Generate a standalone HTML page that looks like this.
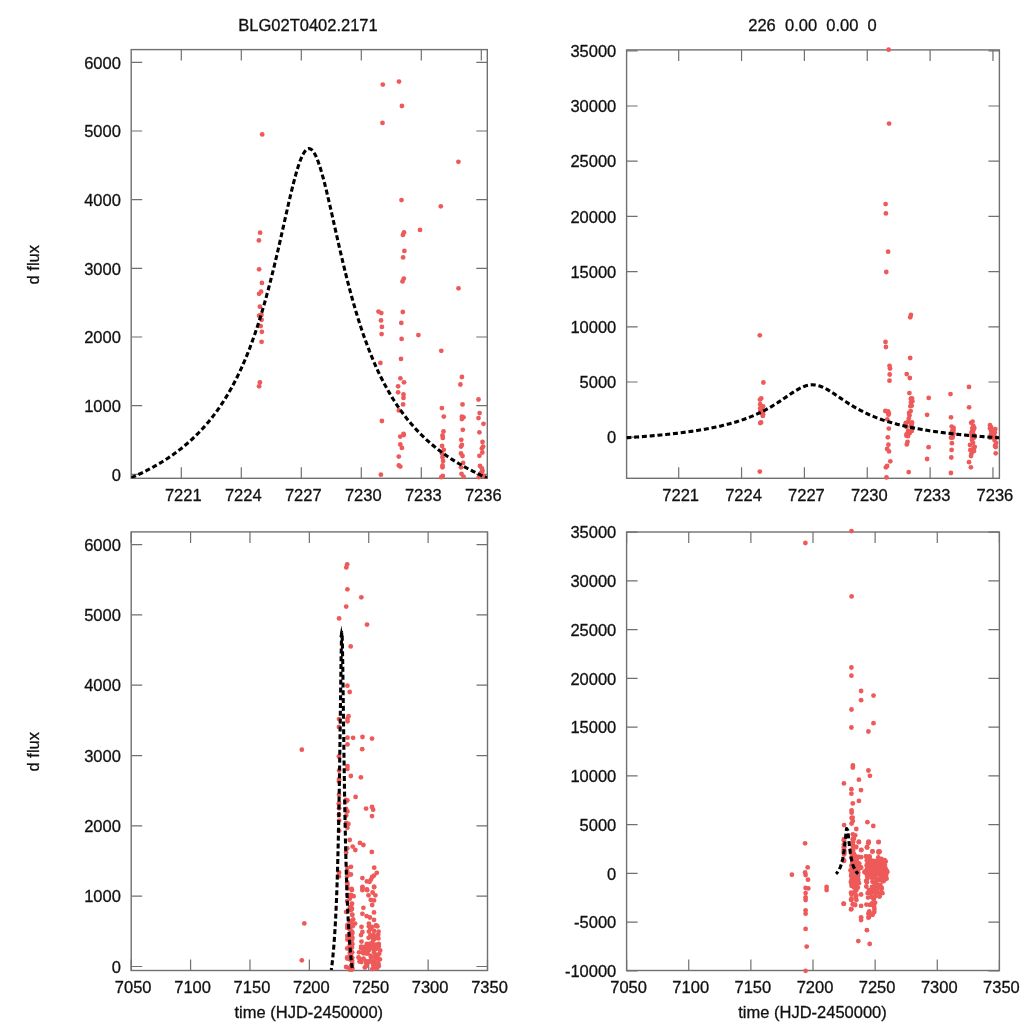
<!DOCTYPE html><html><head><meta charset="utf-8"><style>html,body{margin:0;padding:0;background:#fff;}svg{display:block;}</style></head><body>
<svg width="1024" height="1024" viewBox="0 0 1024 1024">
<rect width="1024" height="1024" fill="#fff"/>
<clipPath id="c1"><rect x="131.2" y="49.6" width="356.1" height="428.7"/></clipPath>
<rect x="131.2" y="49.6" width="356.1" height="428.7" fill="none" stroke="#707070" stroke-width="1.4"/>
<path d="M181.30 478.30V467.30M181.30 49.60V60.60M241.30 478.30V467.30M241.30 49.60V60.60M301.30 478.30V467.30M301.30 49.60V60.60M361.30 478.30V467.30M361.30 49.60V60.60M421.30 478.30V467.30M421.30 49.60V60.60M481.30 478.30V467.30M481.30 49.60V60.60M131.20 474.30H142.20M487.30 474.30H476.30M131.20 405.64H142.20M487.30 405.64H476.30M131.20 336.98H142.20M487.30 336.98H476.30M131.20 268.32H142.20M487.30 268.32H476.30M131.20 199.66H142.20M487.30 199.66H476.30M131.20 131.00H142.20M487.30 131.00H476.30M131.20 62.34H142.20M487.30 62.34H476.30" stroke="#707070" stroke-width="1.2" fill="none"/>
<g fill="#ee5a5a">
<circle cx="262.2" cy="134.4" r="2.4"/><circle cx="260.1" cy="232.7" r="2.4"/><circle cx="258.9" cy="240.4" r="2.4"/><circle cx="259.1" cy="269.3" r="2.4"/><circle cx="261.9" cy="282.9" r="2.4"/><circle cx="261.1" cy="291.7" r="2.4"/><circle cx="259.1" cy="293.8" r="2.4"/><circle cx="259.9" cy="306.7" r="2.4"/><circle cx="259.1" cy="315.7" r="2.4"/><circle cx="261.4" cy="314.9" r="2.4"/><circle cx="261.6" cy="319.8" r="2.4"/><circle cx="260.7" cy="326.1" r="2.4"/><circle cx="261.9" cy="331.8" r="2.4"/><circle cx="261.6" cy="341.8" r="2.4"/><circle cx="259.9" cy="382.5" r="2.4"/><circle cx="259.1" cy="386.3" r="2.4"/><circle cx="382.8" cy="84.6" r="2.4"/><circle cx="399" cy="81.6" r="2.4"/><circle cx="401.9" cy="106" r="2.4"/><circle cx="382.5" cy="122.9" r="2.4"/><circle cx="458.4" cy="161.8" r="2.4"/><circle cx="401.5" cy="200.1" r="2.4"/><circle cx="440.8" cy="206.3" r="2.4"/><circle cx="420" cy="229.9" r="2.4"/><circle cx="404" cy="232.4" r="2.4"/><circle cx="402.9" cy="234.9" r="2.4"/><circle cx="404.4" cy="250.9" r="2.4"/><circle cx="403.1" cy="257.4" r="2.4"/><circle cx="403.8" cy="278.6" r="2.4"/><circle cx="402.5" cy="281.4" r="2.4"/><circle cx="458.5" cy="288.3" r="2.4"/><circle cx="378.5" cy="311.6" r="2.4"/><circle cx="381.3" cy="313.1" r="2.4"/><circle cx="402.8" cy="312" r="2.4"/><circle cx="381" cy="320.4" r="2.4"/><circle cx="401.3" cy="322.9" r="2.4"/><circle cx="381.9" cy="326.9" r="2.4"/><circle cx="381.6" cy="334.1" r="2.4"/><circle cx="418.4" cy="335.1" r="2.4"/><circle cx="401.6" cy="338.9" r="2.4"/><circle cx="441.3" cy="350.8" r="2.4"/><circle cx="401" cy="358.9" r="2.4"/><circle cx="380.4" cy="362.9" r="2.4"/><circle cx="400.4" cy="378.3" r="2.4"/><circle cx="404" cy="382.3" r="2.4"/><circle cx="461.9" cy="377" r="2.4"/><circle cx="460.4" cy="384.5" r="2.4"/><circle cx="398.1" cy="386.3" r="2.4"/><circle cx="398.1" cy="392.3" r="2.4"/><circle cx="403.5" cy="394.4" r="2.4"/><circle cx="403.5" cy="397.9" r="2.4"/><circle cx="403.1" cy="404.4" r="2.4"/><circle cx="478.5" cy="399.5" r="2.4"/><circle cx="462.5" cy="404.4" r="2.4"/><circle cx="441.9" cy="408.1" r="2.4"/><circle cx="398.8" cy="410.4" r="2.4"/><circle cx="479.6" cy="413.1" r="2.4"/><circle cx="443.8" cy="416.6" r="2.4"/><circle cx="461.9" cy="416.6" r="2.4"/><circle cx="463.5" cy="417.3" r="2.4"/><circle cx="461.9" cy="419.1" r="2.4"/><circle cx="478.5" cy="418.1" r="2.4"/><circle cx="381.9" cy="421" r="2.4"/><circle cx="483.5" cy="423.8" r="2.4"/><circle cx="443.5" cy="431.4" r="2.4"/><circle cx="462.8" cy="429.8" r="2.4"/><circle cx="479.4" cy="432.3" r="2.4"/><circle cx="403.5" cy="433.8" r="2.4"/><circle cx="400.3" cy="436.6" r="2.4"/><circle cx="403.8" cy="435" r="2.4"/><circle cx="400.3" cy="444.5" r="2.4"/><circle cx="401.9" cy="447.9" r="2.4"/><circle cx="398.8" cy="456.6" r="2.4"/><circle cx="398.8" cy="465.4" r="2.4"/><circle cx="400.3" cy="466.6" r="2.4"/><circle cx="380.9" cy="474.7" r="2.4"/><circle cx="442.5" cy="435.4" r="2.4"/><circle cx="442.8" cy="437.9" r="2.4"/><circle cx="442.1" cy="446" r="2.4"/><circle cx="443.8" cy="449.8" r="2.4"/><circle cx="441.9" cy="453.5" r="2.4"/><circle cx="442.5" cy="457.3" r="2.4"/><circle cx="443.1" cy="461" r="2.4"/><circle cx="442.5" cy="465.4" r="2.4"/><circle cx="442.5" cy="467.3" r="2.4"/><circle cx="441.3" cy="477.2" r="2.4"/><circle cx="442.8" cy="476" r="2.4"/><circle cx="461.3" cy="439.8" r="2.4"/><circle cx="461.9" cy="444.8" r="2.4"/><circle cx="461" cy="446.6" r="2.4"/><circle cx="461" cy="453.5" r="2.4"/><circle cx="462.5" cy="456" r="2.4"/><circle cx="463.1" cy="462.9" r="2.4"/><circle cx="461" cy="467.3" r="2.4"/><circle cx="461.5" cy="473.8" r="2.4"/><circle cx="463.5" cy="476.6" r="2.4"/><circle cx="482.5" cy="442" r="2.4"/><circle cx="483.1" cy="446.6" r="2.4"/><circle cx="481.9" cy="448.3" r="2.4"/><circle cx="482.3" cy="452.5" r="2.4"/><circle cx="479.4" cy="455.8" r="2.4"/><circle cx="480" cy="466" r="2.4"/><circle cx="481.9" cy="468.5" r="2.4"/><circle cx="482.5" cy="471" r="2.4"/><circle cx="481" cy="472.9" r="2.4"/><circle cx="478.8" cy="477.2" r="2.4"/><circle cx="483.8" cy="476" r="2.4"/>
</g>
<g clip-path="url(#c1)"><path d="M131.30 477.73 L132.49 477.21 L133.68 476.69 L134.87 476.16 L136.06 475.62 L137.25 475.08 L138.44 474.52 L139.63 473.97 L140.83 473.40 L142.02 472.83 L143.21 472.24 L144.40 471.65 L145.59 471.06 L146.78 470.45 L147.97 469.84 L149.16 469.22 L150.35 468.58 L151.54 467.94 L152.73 467.30 L153.92 466.64 L155.11 465.97 L156.30 465.29 L157.49 464.61 L158.68 463.91 L159.88 463.20 L161.07 462.48 L162.26 461.75 L163.45 461.02 L164.64 460.26 L165.83 459.50 L167.02 458.73 L168.21 457.94 L169.40 457.14 L170.59 456.33 L171.78 455.51 L172.97 454.68 L174.16 453.83 L175.35 452.96 L176.54 452.09 L177.73 451.19 L178.93 450.29 L180.12 449.37 L181.31 448.43 L182.50 447.48 L183.69 446.51 L184.88 445.52 L186.07 444.52 L187.26 443.50 L188.45 442.47 L189.64 441.41 L190.83 440.34 L192.02 439.25 L193.21 438.13 L194.40 437.00 L195.59 435.85 L196.78 434.67 L197.98 433.48 L199.17 432.26 L200.36 431.02 L201.55 429.75 L202.74 428.46 L203.93 427.15 L205.12 425.81 L206.31 424.44 L207.50 423.05 L208.69 421.63 L209.88 420.18 L211.07 418.70 L212.26 417.20 L213.45 415.66 L214.64 414.09 L215.84 412.48 L217.03 410.85 L218.22 409.18 L219.41 407.47 L220.60 405.73 L221.79 403.94 L222.98 402.12 L224.17 400.26 L225.36 398.36 L226.55 396.42 L227.74 394.43 L228.93 392.40 L230.12 390.33 L231.31 388.20 L232.50 386.03 L233.69 383.80 L234.89 381.53 L236.08 379.20 L237.27 376.81 L238.46 374.37 L239.65 371.87 L240.84 369.31 L242.03 366.69 L243.22 364.00 L244.41 361.25 L245.60 358.44 L246.79 355.55 L247.98 352.59 L249.17 349.56 L250.36 346.46 L251.55 343.27 L252.74 340.01 L253.94 336.67 L255.13 333.25 L256.32 329.74 L257.51 326.15 L258.70 322.47 L259.89 318.70 L261.08 314.84 L262.27 310.89 L263.46 306.85 L264.65 302.71 L265.84 298.48 L267.03 294.16 L268.22 289.74 L269.41 285.23 L270.60 280.62 L271.79 275.93 L272.99 271.15 L274.18 266.29 L275.37 261.34 L276.56 256.32 L277.75 251.23 L278.94 246.08 L280.13 240.88 L281.32 235.63 L282.51 230.35 L283.70 225.05 L284.89 219.75 L286.08 214.46 L287.27 209.20 L288.46 203.99 L289.65 198.85 L290.85 193.81 L292.04 188.90 L293.23 184.13 L294.42 179.53 L295.61 175.15 L296.80 171.00 L297.99 167.11 L299.18 163.53 L300.37 160.27 L301.56 157.36 L302.75 154.83 L303.94 152.70 L305.13 151.00 L306.32 149.73 L307.51 148.92 L308.70 148.57 L309.01 148.55 L309.90 148.68 L311.09 149.25 L312.28 150.28 L313.47 151.76 L314.66 153.67 L315.85 155.99 L317.04 158.71 L318.23 161.79 L319.42 165.21 L320.61 168.94 L321.80 172.96 L322.99 177.22 L324.18 181.71 L325.37 186.39 L326.56 191.24 L327.75 196.22 L328.95 201.31 L330.14 206.48 L331.33 211.72 L332.52 216.99 L333.71 222.29 L334.90 227.60 L336.09 232.89 L337.28 238.15 L338.47 243.38 L339.66 248.56 L340.85 253.68 L342.04 258.74 L343.23 263.72 L344.42 268.63 L345.61 273.46 L346.81 278.19 L348.00 282.84 L349.19 287.40 L350.38 291.87 L351.57 296.24 L352.76 300.52 L353.95 304.71 L355.14 308.80 L356.33 312.80 L357.52 316.71 L358.71 320.52 L359.90 324.25 L361.09 327.89 L362.28 331.44 L363.47 334.90 L364.66 338.29 L365.86 341.59 L367.05 344.81 L368.24 347.96 L369.43 351.02 L370.62 354.02 L371.81 356.94 L373.00 359.80 L374.19 362.58 L375.38 365.30 L376.57 367.95 L377.76 370.55 L378.95 373.08 L380.14 375.55 L381.33 377.96 L382.52 380.32 L383.71 382.62 L384.91 384.88 L386.10 387.08 L387.29 389.23 L388.48 391.33 L389.67 393.38 L390.86 395.39 L392.05 397.36 L393.24 399.28 L394.43 401.16 L395.62 403.00 L396.81 404.80 L398.00 406.57 L399.19 408.29 L400.38 409.98 L401.57 411.64 L402.76 413.26 L403.96 414.84 L405.15 416.40 L406.34 417.92 L407.53 419.42 L408.72 420.88 L409.91 422.31 L411.10 423.72 L412.29 425.10 L413.48 426.45 L414.67 427.78 L415.86 429.08 L417.05 430.36 L418.24 431.61 L419.43 432.84 L420.62 434.05 L421.82 435.24 L423.01 436.40 L424.20 437.55 L425.39 438.67 L426.58 439.77 L427.77 440.86 L428.96 441.92 L430.15 442.97 L431.34 443.99 L432.53 445.01 L433.72 446.00 L434.91 446.98 L436.10 447.94 L437.29 448.88 L438.48 449.81 L439.67 450.72 L440.87 451.62 L442.06 452.51 L443.25 453.38 L444.44 454.24 L445.63 455.08 L446.82 455.91 L448.01 456.72 L449.20 457.53 L450.39 458.32 L451.58 459.10 L452.77 459.87 L453.96 460.63 L455.15 461.37 L456.34 462.11 L457.53 462.83 L458.72 463.54 L459.92 464.24 L461.11 464.94 L462.30 465.62 L463.49 466.29 L464.68 466.95 L465.87 467.61 L467.06 468.25 L468.25 468.89 L469.44 469.52 L470.63 470.13 L471.82 470.74 L473.01 471.35 L474.20 471.94 L475.39 472.52 L476.58 473.10 L477.77 473.67 L478.97 474.23 L480.16 474.79 L481.35 475.34 L482.54 475.88 L483.73 476.41 L484.92 476.94 L486.11 477.46 L487.30 477.98" fill="none" stroke="#000" stroke-width="3.1" stroke-dasharray="5 2.8" stroke-dashoffset="0.00" stroke-linejoin="miter"/></g>
<g font-family="Liberation Sans, sans-serif" font-size="16.5" fill="#111" stroke="#111" stroke-width="0.3" style="will-change:transform"><text x="183.30" y="501.00" text-anchor="middle">7221</text><text x="243.30" y="501.00" text-anchor="middle">7224</text><text x="303.30" y="501.00" text-anchor="middle">7227</text><text x="363.30" y="501.00" text-anchor="middle">7230</text><text x="423.30" y="501.00" text-anchor="middle">7233</text><text x="483.30" y="501.00" text-anchor="middle">7236</text><text x="120.90" y="480.50" text-anchor="end">0</text><text x="120.90" y="411.84" text-anchor="end">1000</text><text x="120.90" y="343.18" text-anchor="end">2000</text><text x="120.90" y="274.52" text-anchor="end">3000</text><text x="120.90" y="205.86" text-anchor="end">4000</text><text x="120.90" y="137.20" text-anchor="end">5000</text><text x="120.90" y="68.54" text-anchor="end">6000</text></g>
<clipPath id="c2"><rect x="626.6" y="49.9" width="372.8" height="428.4"/></clipPath>
<rect x="626.6" y="49.9" width="372.8" height="428.4" fill="none" stroke="#707070" stroke-width="1.4"/>
<path d="M678.70 478.30V467.30M678.70 49.90V60.90M741.55 478.30V467.30M741.55 49.90V60.90M804.40 478.30V467.30M804.40 49.90V60.90M867.25 478.30V467.30M867.25 49.90V60.90M930.10 478.30V467.30M930.10 49.90V60.90M992.95 478.30V467.30M992.95 49.90V60.90M626.60 437.20H637.60M999.40 437.20H988.40M626.60 382.00H637.60M999.40 382.00H988.40M626.60 326.80H637.60M999.40 326.80H988.40M626.60 271.60H637.60M999.40 271.60H988.40M626.60 216.40H637.60M999.40 216.40H988.40M626.60 161.20H637.60M999.40 161.20H988.40M626.60 106.00H637.60M999.40 106.00H988.40M626.60 50.80H637.60M999.40 50.80H988.40" stroke="#707070" stroke-width="1.2" fill="none"/>
<g fill="#ee5a5a">
<circle cx="763.4" cy="382.5" r="2.4"/><circle cx="761.2" cy="398.4" r="2.4"/><circle cx="760" cy="399.6" r="2.4"/><circle cx="760.2" cy="404.2" r="2.4"/><circle cx="763.1" cy="406.4" r="2.4"/><circle cx="762.3" cy="407.8" r="2.4"/><circle cx="760.2" cy="408.2" r="2.4"/><circle cx="761" cy="410.3" r="2.4"/><circle cx="760.2" cy="411.7" r="2.4"/><circle cx="762.6" cy="411.6" r="2.4"/><circle cx="762.8" cy="412.4" r="2.4"/><circle cx="761.9" cy="413.4" r="2.4"/><circle cx="763.1" cy="414.3" r="2.4"/><circle cx="762.8" cy="415.9" r="2.4"/><circle cx="761" cy="422.4" r="2.4"/><circle cx="760.2" cy="423.1" r="2.4"/><circle cx="889.7" cy="374.5" r="2.4"/><circle cx="906.7" cy="374.1" r="2.4"/><circle cx="909.8" cy="378" r="2.4"/><circle cx="889.5" cy="380.7" r="2.4"/><circle cx="969" cy="386.9" r="2.4"/><circle cx="909.4" cy="393.1" r="2.4"/><circle cx="950.5" cy="394.1" r="2.4"/><circle cx="928.7" cy="397.9" r="2.4"/><circle cx="912" cy="398.3" r="2.4"/><circle cx="910.8" cy="398.7" r="2.4"/><circle cx="912.4" cy="401.3" r="2.4"/><circle cx="911" cy="402.3" r="2.4"/><circle cx="911.7" cy="405.7" r="2.4"/><circle cx="910.4" cy="406.2" r="2.4"/><circle cx="969.1" cy="407.3" r="2.4"/><circle cx="885.3" cy="411" r="2.4"/><circle cx="888.1" cy="411.3" r="2.4"/><circle cx="910.7" cy="411.1" r="2.4"/><circle cx="887.9" cy="412.5" r="2.4"/><circle cx="909.1" cy="412.9" r="2.4"/><circle cx="888.8" cy="413.5" r="2.4"/><circle cx="888.5" cy="414.7" r="2.4"/><circle cx="927.1" cy="414.8" r="2.4"/><circle cx="909.5" cy="415.4" r="2.4"/><circle cx="951" cy="417.3" r="2.4"/><circle cx="908.8" cy="418.6" r="2.4"/><circle cx="887.3" cy="419.3" r="2.4"/><circle cx="908.2" cy="421.8" r="2.4"/><circle cx="912" cy="422.4" r="2.4"/><circle cx="972.6" cy="421.6" r="2.4"/><circle cx="971.1" cy="422.8" r="2.4"/><circle cx="905.8" cy="423" r="2.4"/><circle cx="905.8" cy="424" r="2.4"/><circle cx="911.5" cy="424.4" r="2.4"/><circle cx="911.5" cy="424.9" r="2.4"/><circle cx="911" cy="426" r="2.4"/><circle cx="990" cy="425.2" r="2.4"/><circle cx="973.3" cy="426" r="2.4"/><circle cx="951.7" cy="426.6" r="2.4"/><circle cx="906.5" cy="426.9" r="2.4"/><circle cx="991.2" cy="427.4" r="2.4"/><circle cx="953.6" cy="427.9" r="2.4"/><circle cx="972.6" cy="427.9" r="2.4"/><circle cx="974.3" cy="428" r="2.4"/><circle cx="972.6" cy="428.3" r="2.4"/><circle cx="990" cy="428.2" r="2.4"/><circle cx="888.8" cy="428.6" r="2.4"/><circle cx="995.3" cy="429.1" r="2.4"/><circle cx="953.4" cy="430.3" r="2.4"/><circle cx="973.5" cy="430" r="2.4"/><circle cx="991" cy="430.4" r="2.4"/><circle cx="911.5" cy="430.7" r="2.4"/><circle cx="908.1" cy="431.1" r="2.4"/><circle cx="911.7" cy="430.9" r="2.4"/><circle cx="908.1" cy="432.4" r="2.4"/><circle cx="909.8" cy="433" r="2.4"/><circle cx="906.5" cy="434.4" r="2.4"/><circle cx="906.5" cy="435.8" r="2.4"/><circle cx="908.1" cy="436" r="2.4"/><circle cx="887.8" cy="437.3" r="2.4"/><circle cx="952.3" cy="430.9" r="2.4"/><circle cx="952.6" cy="431.3" r="2.4"/><circle cx="951.9" cy="432.6" r="2.4"/><circle cx="953.6" cy="433.3" r="2.4"/><circle cx="951.7" cy="433.9" r="2.4"/><circle cx="952.3" cy="434.5" r="2.4"/><circle cx="952.9" cy="435.1" r="2.4"/><circle cx="952.3" cy="435.8" r="2.4"/><circle cx="952.3" cy="436.1" r="2.4"/><circle cx="951" cy="437.7" r="2.4"/><circle cx="952.6" cy="437.5" r="2.4"/><circle cx="971.9" cy="431.6" r="2.4"/><circle cx="972.6" cy="432.4" r="2.4"/><circle cx="971.7" cy="432.7" r="2.4"/><circle cx="971.7" cy="433.9" r="2.4"/><circle cx="973.3" cy="434.3" r="2.4"/><circle cx="973.9" cy="435.4" r="2.4"/><circle cx="971.7" cy="436.1" r="2.4"/><circle cx="972.2" cy="437.1" r="2.4"/><circle cx="974.3" cy="437.6" r="2.4"/><circle cx="994.2" cy="432" r="2.4"/><circle cx="994.8" cy="432.7" r="2.4"/><circle cx="993.6" cy="433" r="2.4"/><circle cx="993.9" cy="433.7" r="2.4"/><circle cx="991" cy="434.2" r="2.4"/><circle cx="991.6" cy="435.9" r="2.4"/><circle cx="993.6" cy="436.3" r="2.4"/><circle cx="994.2" cy="436.7" r="2.4"/><circle cx="992.6" cy="437" r="2.4"/><circle cx="990.3" cy="437.7" r="2.4"/><circle cx="995.5" cy="437.5" r="2.4"/><circle cx="759.8" cy="335.3" r="2.4"/><circle cx="759.8" cy="471.6" r="2.4"/><circle cx="888.6" cy="49.7" r="2.4"/><circle cx="889.1" cy="123.6" r="2.4"/><circle cx="885.6" cy="204.1" r="2.4"/><circle cx="885.9" cy="213.4" r="2.4"/><circle cx="888.1" cy="251.7" r="2.4"/><circle cx="886.3" cy="272" r="2.4"/><circle cx="885.5" cy="341.9" r="2.4"/><circle cx="885.9" cy="347" r="2.4"/><circle cx="889.5" cy="365.8" r="2.4"/><circle cx="890" cy="368.5" r="2.4"/><circle cx="910.9" cy="315" r="2.4"/><circle cx="910.2" cy="317.3" r="2.4"/><circle cx="910.2" cy="358" r="2.4"/><circle cx="888.4" cy="444.7" r="2.4"/><circle cx="887.1" cy="448.9" r="2.4"/><circle cx="889" cy="451.4" r="2.4"/><circle cx="890.3" cy="461.3" r="2.4"/><circle cx="885.9" cy="467.3" r="2.4"/><circle cx="887.1" cy="466" r="2.4"/><circle cx="886.5" cy="477.4" r="2.4"/><circle cx="906.8" cy="444.4" r="2.4"/><circle cx="907.5" cy="441.9" r="2.4"/><circle cx="908.7" cy="472.1" r="2.4"/><circle cx="928.6" cy="447.2" r="2.4"/><circle cx="927.1" cy="459" r="2.4"/><circle cx="951.9" cy="443.2" r="2.4"/><circle cx="951.6" cy="449.9" r="2.4"/><circle cx="951.3" cy="457.5" r="2.4"/><circle cx="950.9" cy="473" r="2.4"/><circle cx="971.6" cy="453.3" r="2.4"/><circle cx="970.3" cy="450.1" r="2.4"/><circle cx="973.5" cy="448.2" r="2.4"/><circle cx="974.7" cy="447" r="2.4"/><circle cx="969" cy="462.2" r="2.4"/><circle cx="970.9" cy="467.3" r="2.4"/><circle cx="995.7" cy="447" r="2.4"/><circle cx="995.7" cy="453.3" r="2.4"/><circle cx="972" cy="440" r="2.4"/><circle cx="973" cy="443" r="2.4"/><circle cx="970" cy="445" r="2.4"/><circle cx="974" cy="451" r="2.4"/><circle cx="971" cy="456" r="2.4"/><circle cx="994.5" cy="440" r="2.4"/><circle cx="996" cy="443" r="2.4"/><circle cx="995" cy="446" r="2.4"/>
</g>
<g clip-path="url(#c2)"><path d="M626.33 437.75 L627.57 437.67 L628.82 437.58 L630.07 437.50 L631.31 437.41 L632.56 437.32 L633.81 437.24 L635.06 437.15 L636.30 437.06 L637.55 436.96 L638.80 436.87 L640.04 436.77 L641.29 436.68 L642.54 436.58 L643.79 436.48 L645.03 436.38 L646.28 436.28 L647.53 436.18 L648.77 436.07 L650.02 435.97 L651.27 435.86 L652.52 435.75 L653.76 435.64 L655.01 435.53 L656.26 435.42 L657.50 435.30 L658.75 435.18 L660.00 435.06 L661.25 434.94 L662.49 434.82 L663.74 434.70 L664.99 434.57 L666.24 434.44 L667.48 434.31 L668.73 434.18 L669.98 434.04 L671.22 433.91 L672.47 433.77 L673.72 433.63 L674.97 433.48 L676.21 433.34 L677.46 433.19 L678.71 433.04 L679.95 432.89 L681.20 432.73 L682.45 432.57 L683.70 432.41 L684.94 432.25 L686.19 432.08 L687.44 431.91 L688.68 431.74 L689.93 431.56 L691.18 431.38 L692.43 431.20 L693.67 431.02 L694.92 430.83 L696.17 430.64 L697.41 430.44 L698.66 430.24 L699.91 430.04 L701.16 429.83 L702.40 429.62 L703.65 429.40 L704.90 429.18 L706.15 428.96 L707.39 428.73 L708.64 428.50 L709.89 428.26 L711.13 428.02 L712.38 427.77 L713.63 427.52 L714.88 427.26 L716.12 427.00 L717.37 426.73 L718.62 426.45 L719.86 426.17 L721.11 425.89 L722.36 425.59 L723.61 425.30 L724.85 424.99 L726.10 424.68 L727.35 424.36 L728.59 424.03 L729.84 423.70 L731.09 423.36 L732.34 423.01 L733.58 422.65 L734.83 422.28 L736.08 421.91 L737.32 421.52 L738.57 421.13 L739.82 420.73 L741.07 420.32 L742.31 419.90 L743.56 419.47 L744.81 419.02 L746.06 418.57 L747.30 418.11 L748.55 417.63 L749.80 417.14 L751.04 416.64 L752.29 416.13 L753.54 415.61 L754.79 415.07 L756.03 414.52 L757.28 413.96 L758.53 413.38 L759.77 412.79 L761.02 412.18 L762.27 411.56 L763.52 410.93 L764.76 410.28 L766.01 409.61 L767.26 408.93 L768.50 408.23 L769.75 407.52 L771.00 406.80 L772.25 406.06 L773.49 405.30 L774.74 404.54 L775.99 403.75 L777.24 402.96 L778.48 402.15 L779.73 401.33 L780.98 400.50 L782.22 399.67 L783.47 398.82 L784.72 397.97 L785.97 397.12 L787.21 396.27 L788.46 395.42 L789.71 394.57 L790.95 393.74 L792.20 392.91 L793.45 392.10 L794.70 391.31 L795.94 390.54 L797.19 389.80 L798.44 389.10 L799.68 388.43 L800.93 387.81 L802.18 387.23 L803.43 386.71 L804.67 386.24 L805.92 385.83 L807.17 385.49 L808.41 385.22 L809.66 385.01 L810.91 384.88 L812.16 384.82 L812.48 384.82 L813.40 384.84 L814.65 384.93 L815.90 385.10 L817.15 385.34 L818.39 385.65 L819.64 386.02 L820.89 386.45 L822.13 386.95 L823.38 387.50 L824.63 388.10 L825.88 388.75 L827.12 389.43 L828.37 390.15 L829.62 390.91 L830.86 391.69 L832.11 392.49 L833.36 393.30 L834.61 394.14 L835.85 394.98 L837.10 395.83 L838.35 396.68 L839.59 397.53 L840.84 398.38 L842.09 399.23 L843.34 400.07 L844.58 400.90 L845.83 401.73 L847.08 402.54 L848.32 403.34 L849.57 404.13 L850.82 404.91 L852.07 405.67 L853.31 406.42 L854.56 407.15 L855.81 407.87 L857.06 408.57 L858.30 409.26 L859.55 409.93 L860.80 410.59 L862.04 411.23 L863.29 411.86 L864.54 412.47 L865.79 413.07 L867.03 413.66 L868.28 414.23 L869.53 414.79 L870.77 415.33 L872.02 415.86 L873.27 416.38 L874.52 416.88 L875.76 417.38 L877.01 417.86 L878.26 418.33 L879.50 418.79 L880.75 419.24 L882.00 419.67 L883.25 420.10 L884.49 420.52 L885.74 420.92 L886.99 421.32 L888.24 421.71 L889.48 422.09 L890.73 422.46 L891.98 422.82 L893.22 423.17 L894.47 423.52 L895.72 423.86 L896.97 424.19 L898.21 424.51 L899.46 424.83 L900.71 425.14 L901.95 425.44 L903.20 425.74 L904.45 426.03 L905.70 426.31 L906.94 426.59 L908.19 426.86 L909.44 427.12 L910.68 427.38 L911.93 427.64 L913.18 427.89 L914.43 428.13 L915.67 428.38 L916.92 428.61 L918.17 428.84 L919.41 429.07 L920.66 429.29 L921.91 429.51 L923.16 429.72 L924.40 429.93 L925.65 430.13 L926.90 430.34 L928.15 430.53 L929.39 430.73 L930.64 430.92 L931.89 431.11 L933.13 431.29 L934.38 431.47 L935.63 431.65 L936.88 431.82 L938.12 431.99 L939.37 432.16 L940.62 432.33 L941.86 432.49 L943.11 432.65 L944.36 432.81 L945.61 432.96 L946.85 433.11 L948.10 433.26 L949.35 433.41 L950.59 433.55 L951.84 433.70 L953.09 433.84 L954.34 433.97 L955.58 434.11 L956.83 434.24 L958.08 434.37 L959.32 434.50 L960.57 434.63 L961.82 434.76 L963.07 434.88 L964.31 435.00 L965.56 435.12 L966.81 435.24 L968.06 435.36 L969.30 435.47 L970.55 435.58 L971.80 435.69 L973.04 435.80 L974.29 435.91 L975.54 436.02 L976.79 436.12 L978.03 436.23 L979.28 436.33 L980.53 436.43 L981.77 436.53 L983.02 436.63 L984.27 436.72 L985.52 436.82 L986.76 436.91 L988.01 437.01 L989.26 437.10 L990.50 437.19 L991.75 437.28 L993.00 437.37 L994.25 437.45 L995.49 437.54 L996.74 437.62 L997.99 437.71 L999.24 437.79" fill="none" stroke="#000" stroke-width="3.1" stroke-dasharray="5 2.8" stroke-dashoffset="0.00" stroke-linejoin="miter"/></g>
<g font-family="Liberation Sans, sans-serif" font-size="16.5" fill="#111" stroke="#111" stroke-width="0.3" style="will-change:transform"><text x="680.70" y="501.00" text-anchor="middle">7221</text><text x="743.55" y="501.00" text-anchor="middle">7224</text><text x="806.40" y="501.00" text-anchor="middle">7227</text><text x="869.25" y="501.00" text-anchor="middle">7230</text><text x="932.10" y="501.00" text-anchor="middle">7233</text><text x="994.95" y="501.00" text-anchor="middle">7236</text><text x="616.30" y="443.40" text-anchor="end">0</text><text x="616.30" y="388.20" text-anchor="end">5000</text><text x="616.30" y="333.00" text-anchor="end">10000</text><text x="616.30" y="277.80" text-anchor="end">15000</text><text x="616.30" y="222.60" text-anchor="end">20000</text><text x="616.30" y="167.40" text-anchor="end">25000</text><text x="616.30" y="112.20" text-anchor="end">30000</text><text x="616.30" y="57.00" text-anchor="end">35000</text></g>
<clipPath id="c3"><rect x="131.2" y="531.9" width="356.3" height="438.6"/></clipPath>
<rect x="131.2" y="531.9" width="356.3" height="438.6" fill="none" stroke="#707070" stroke-width="1.4"/>
<path d="M131.20 970.50V959.50M131.20 531.90V542.90M190.58 970.50V959.50M190.58 531.90V542.90M249.97 970.50V959.50M249.97 531.90V542.90M309.35 970.50V959.50M309.35 531.90V542.90M368.73 970.50V959.50M368.73 531.90V542.90M428.12 970.50V959.50M428.12 531.90V542.90M487.50 970.50V959.50M487.50 531.90V542.90M131.20 966.50H142.20M487.50 966.50H476.50M131.20 896.18H142.20M487.50 896.18H476.50M131.20 825.86H142.20M487.50 825.86H476.50M131.20 755.54H142.20M487.50 755.54H476.50M131.20 685.22H142.20M487.50 685.22H476.50M131.20 614.90H142.20M487.50 614.90H476.50M131.20 544.58H142.20M487.50 544.58H476.50" stroke="#707070" stroke-width="1.2" fill="none"/>
<g fill="#ee5a5a">
<circle cx="339.1" cy="618.4" r="2.4"/><circle cx="339" cy="719.1" r="2.4"/><circle cx="338.9" cy="726.9" r="2.4"/><circle cx="338.9" cy="756.5" r="2.4"/><circle cx="339.1" cy="770.5" r="2.4"/><circle cx="339" cy="779.5" r="2.4"/><circle cx="338.9" cy="781.6" r="2.4"/><circle cx="339" cy="794.8" r="2.4"/><circle cx="338.9" cy="804.1" r="2.4"/><circle cx="339" cy="803.2" r="2.4"/><circle cx="339.1" cy="808.3" r="2.4"/><circle cx="339" cy="814.7" r="2.4"/><circle cx="339.1" cy="820.6" r="2.4"/><circle cx="339.1" cy="830.8" r="2.4"/><circle cx="339" cy="872.5" r="2.4"/><circle cx="338.9" cy="876.4" r="2.4"/><circle cx="346.3" cy="567.4" r="2.4"/><circle cx="347.2" cy="564.3" r="2.4"/><circle cx="347.4" cy="589.3" r="2.4"/><circle cx="346.2" cy="606.6" r="2.4"/><circle cx="350.7" cy="646.4" r="2.4"/><circle cx="347.4" cy="685.7" r="2.4"/><circle cx="349.7" cy="692" r="2.4"/><circle cx="348.5" cy="716.2" r="2.4"/><circle cx="347.5" cy="718.8" r="2.4"/><circle cx="347.5" cy="721.3" r="2.4"/><circle cx="347.5" cy="737.7" r="2.4"/><circle cx="347.5" cy="744.4" r="2.4"/><circle cx="347.5" cy="766.1" r="2.4"/><circle cx="347.4" cy="768.9" r="2.4"/><circle cx="350.8" cy="776" r="2.4"/><circle cx="346" cy="799.9" r="2.4"/><circle cx="346.2" cy="801.4" r="2.4"/><circle cx="347.4" cy="800.3" r="2.4"/><circle cx="346.1" cy="808.9" r="2.4"/><circle cx="347.4" cy="811.4" r="2.4"/><circle cx="346.2" cy="815.5" r="2.4"/><circle cx="346.2" cy="822.9" r="2.4"/><circle cx="348.4" cy="823.9" r="2.4"/><circle cx="347.4" cy="827.8" r="2.4"/><circle cx="349.7" cy="840" r="2.4"/><circle cx="347.3" cy="848.3" r="2.4"/><circle cx="346.1" cy="852.4" r="2.4"/><circle cx="347.3" cy="868.1" r="2.4"/><circle cx="347.5" cy="872.2" r="2.4"/><circle cx="351" cy="866.8" r="2.4"/><circle cx="350.9" cy="874.5" r="2.4"/><circle cx="347.2" cy="876.3" r="2.4"/><circle cx="347.2" cy="882.5" r="2.4"/><circle cx="347.5" cy="884.7" r="2.4"/><circle cx="347.5" cy="888.3" r="2.4"/><circle cx="347.5" cy="894.9" r="2.4"/><circle cx="351.9" cy="889.9" r="2.4"/><circle cx="351" cy="894.9" r="2.4"/><circle cx="349.8" cy="898.7" r="2.4"/><circle cx="347.2" cy="901.1" r="2.4"/><circle cx="352" cy="903.8" r="2.4"/><circle cx="349.9" cy="907.4" r="2.4"/><circle cx="351" cy="907.4" r="2.4"/><circle cx="351" cy="908.1" r="2.4"/><circle cx="351" cy="910" r="2.4"/><circle cx="351.9" cy="908.9" r="2.4"/><circle cx="346.2" cy="911.9" r="2.4"/><circle cx="352.2" cy="914.7" r="2.4"/><circle cx="349.9" cy="922.6" r="2.4"/><circle cx="351" cy="920.9" r="2.4"/><circle cx="352" cy="923.4" r="2.4"/><circle cx="347.5" cy="925" r="2.4"/><circle cx="347.3" cy="927.9" r="2.4"/><circle cx="347.5" cy="926.2" r="2.4"/><circle cx="347.3" cy="936" r="2.4"/><circle cx="347.4" cy="939.5" r="2.4"/><circle cx="347.2" cy="948.4" r="2.4"/><circle cx="347.2" cy="957.4" r="2.4"/><circle cx="347.3" cy="958.6" r="2.4"/><circle cx="346.1" cy="967" r="2.4"/><circle cx="349.8" cy="926.7" r="2.4"/><circle cx="349.8" cy="929.2" r="2.4"/><circle cx="349.8" cy="937.5" r="2.4"/><circle cx="349.9" cy="941.4" r="2.4"/><circle cx="349.8" cy="945.2" r="2.4"/><circle cx="349.8" cy="949" r="2.4"/><circle cx="349.8" cy="952.9" r="2.4"/><circle cx="349.8" cy="957.4" r="2.4"/><circle cx="349.8" cy="959.3" r="2.4"/><circle cx="349.7" cy="969.5" r="2.4"/><circle cx="349.8" cy="968.2" r="2.4"/><circle cx="350.9" cy="931.1" r="2.4"/><circle cx="351" cy="936.2" r="2.4"/><circle cx="350.9" cy="938.1" r="2.4"/><circle cx="350.9" cy="945.2" r="2.4"/><circle cx="351" cy="947.8" r="2.4"/><circle cx="351" cy="954.8" r="2.4"/><circle cx="350.9" cy="959.3" r="2.4"/><circle cx="350.9" cy="965.9" r="2.4"/><circle cx="351" cy="968.9" r="2.4"/><circle cx="352.2" cy="933.4" r="2.4"/><circle cx="352.2" cy="938.1" r="2.4"/><circle cx="352.1" cy="939.8" r="2.4"/><circle cx="352.2" cy="944.2" r="2.4"/><circle cx="352" cy="947.5" r="2.4"/><circle cx="352" cy="958" r="2.4"/><circle cx="352.1" cy="960.6" r="2.4"/><circle cx="352.2" cy="963.1" r="2.4"/><circle cx="352.1" cy="965.1" r="2.4"/><circle cx="352" cy="969.5" r="2.4"/><circle cx="352.3" cy="968.2" r="2.4"/><circle cx="361.3" cy="597.3" r="2.4"/><circle cx="367" cy="624.6" r="2.4"/><circle cx="353.1" cy="737.8" r="2.4"/><circle cx="362.5" cy="737" r="2.4"/><circle cx="372" cy="738.6" r="2.4"/><circle cx="362.2" cy="749.2" r="2.4"/><circle cx="360.9" cy="777.3" r="2.4"/><circle cx="355.6" cy="796.9" r="2.4"/><circle cx="366.1" cy="808.6" r="2.4"/><circle cx="372" cy="807" r="2.4"/><circle cx="373.1" cy="809.7" r="2.4"/><circle cx="372" cy="816.1" r="2.4"/><circle cx="359.9" cy="842.9" r="2.4"/><circle cx="363.4" cy="845" r="2.4"/><circle cx="352.7" cy="846.6" r="2.4"/><circle cx="355.3" cy="850" r="2.4"/><circle cx="371.8" cy="851.9" r="2.4"/><circle cx="374.2" cy="867.7" r="2.4"/><circle cx="376.8" cy="872.8" r="2.4"/><circle cx="362.4" cy="878.1" r="2.4"/><circle cx="372.2" cy="877" r="2.4"/><circle cx="374" cy="875.6" r="2.4"/><circle cx="370.9" cy="879.6" r="2.4"/><circle cx="366.9" cy="881.4" r="2.4"/><circle cx="369.6" cy="881.8" r="2.4"/><circle cx="362.5" cy="887" r="2.4"/><circle cx="374.2" cy="887" r="2.4"/><circle cx="351.5" cy="888.8" r="2.4"/><circle cx="366.9" cy="889.3" r="2.4"/><circle cx="301.8" cy="749.7" r="2.4"/><circle cx="304.3" cy="923.4" r="2.4"/><circle cx="301.8" cy="960.3" r="2.4"/><circle cx="351.8" cy="889.7" r="2.4"/><circle cx="352.2" cy="895.8" r="2.4"/><circle cx="353.6" cy="896.2" r="2.4"/><circle cx="351.8" cy="903.6" r="2.4"/><circle cx="351.8" cy="908.7" r="2.4"/><circle cx="352.2" cy="914.8" r="2.4"/><circle cx="353.2" cy="919.4" r="2.4"/><circle cx="355" cy="923.6" r="2.4"/><circle cx="352.7" cy="926.3" r="2.4"/><circle cx="352.2" cy="931.9" r="2.4"/><circle cx="352.2" cy="937.5" r="2.4"/><circle cx="352.2" cy="944" r="2.4"/><circle cx="352.2" cy="952.3" r="2.4"/><circle cx="352.2" cy="957.8" r="2.4"/><circle cx="351.3" cy="969" r="2.4"/><circle cx="362.4" cy="887.9" r="2.4"/><circle cx="362.4" cy="890.2" r="2.4"/><circle cx="367.1" cy="890.2" r="2.4"/><circle cx="374" cy="887" r="2.4"/><circle cx="372.6" cy="892.5" r="2.4"/><circle cx="375.4" cy="895.3" r="2.4"/><circle cx="368.5" cy="895.3" r="2.4"/><circle cx="370.8" cy="899.9" r="2.4"/><circle cx="374" cy="900.4" r="2.4"/><circle cx="372.2" cy="905" r="2.4"/><circle cx="363.4" cy="907.8" r="2.4"/><circle cx="374" cy="912.4" r="2.4"/><circle cx="362.4" cy="913.8" r="2.4"/><circle cx="366.6" cy="916.1" r="2.4"/><circle cx="369.9" cy="917.5" r="2.4"/><circle cx="374" cy="919.9" r="2.4"/><circle cx="368.9" cy="923.6" r="2.4"/><circle cx="361.5" cy="926.8" r="2.4"/><circle cx="362.4" cy="931.9" r="2.4"/><circle cx="361" cy="935.1" r="2.4"/><circle cx="376.3" cy="925.4" r="2.4"/><circle cx="378.2" cy="934.7" r="2.4"/><circle cx="361.5" cy="941.6" r="2.4"/><circle cx="368.9" cy="926.3" r="2.4"/><circle cx="371.8" cy="926.9" r="2.4"/><circle cx="375.8" cy="925.7" r="2.4"/><circle cx="377.4" cy="926.3" r="2.4"/><circle cx="370.2" cy="929.1" r="2.4"/><circle cx="368.9" cy="931.6" r="2.4"/><circle cx="374.1" cy="930.9" r="2.4"/><circle cx="378.6" cy="931.6" r="2.4"/><circle cx="370.4" cy="935.5" r="2.4"/><circle cx="373.4" cy="934.6" r="2.4"/><circle cx="377.3" cy="935.7" r="2.4"/><circle cx="368.6" cy="937.8" r="2.4"/><circle cx="372.2" cy="937.3" r="2.4"/><circle cx="375.7" cy="938.1" r="2.4"/><circle cx="378.4" cy="938.4" r="2.4"/><circle cx="373.3" cy="940.3" r="2.4"/><circle cx="367.8" cy="944.4" r="2.4"/><circle cx="372.3" cy="943.6" r="2.4"/><circle cx="375.6" cy="944.7" r="2.4"/><circle cx="378.4" cy="944.4" r="2.4"/><circle cx="366.8" cy="944" r="2.4"/><circle cx="370.3" cy="943.6" r="2.4"/><circle cx="372.2" cy="943.7" r="2.4"/><circle cx="378.8" cy="943.9" r="2.4"/><circle cx="369.3" cy="947.5" r="2.4"/><circle cx="371.7" cy="946.5" r="2.4"/><circle cx="374.1" cy="947.3" r="2.4"/><circle cx="378.7" cy="946.6" r="2.4"/><circle cx="366.6" cy="948.5" r="2.4"/><circle cx="369.3" cy="949.9" r="2.4"/><circle cx="373.7" cy="949.2" r="2.4"/><circle cx="376.3" cy="948.8" r="2.4"/><circle cx="380.2" cy="950.4" r="2.4"/><circle cx="367.6" cy="953" r="2.4"/><circle cx="374.1" cy="952.3" r="2.4"/><circle cx="366.7" cy="953.7" r="2.4"/><circle cx="370.6" cy="955.6" r="2.4"/><circle cx="375.5" cy="954.8" r="2.4"/><circle cx="379.2" cy="953.8" r="2.4"/><circle cx="371.1" cy="957.4" r="2.4"/><circle cx="374.9" cy="956.4" r="2.4"/><circle cx="377.7" cy="957.5" r="2.4"/><circle cx="366" cy="961.1" r="2.4"/><circle cx="369.8" cy="961.2" r="2.4"/><circle cx="374.1" cy="960.6" r="2.4"/><circle cx="375.8" cy="959.7" r="2.4"/><circle cx="379.9" cy="959.3" r="2.4"/><circle cx="368" cy="962.3" r="2.4"/><circle cx="372.3" cy="962.6" r="2.4"/><circle cx="373.7" cy="963" r="2.4"/><circle cx="378.3" cy="963.2" r="2.4"/><circle cx="366.3" cy="965.9" r="2.4"/><circle cx="373.3" cy="965.5" r="2.4"/><circle cx="376.7" cy="964.6" r="2.4"/><circle cx="378.8" cy="966" r="2.4"/><circle cx="372.3" cy="969.1" r="2.4"/><circle cx="374.1" cy="968.6" r="2.4"/><circle cx="377.3" cy="967.8" r="2.4"/><circle cx="361.2" cy="946.7" r="2.4"/><circle cx="364.4" cy="946.8" r="2.4"/><circle cx="361.2" cy="948.2" r="2.4"/><circle cx="364" cy="948.2" r="2.4"/><circle cx="359.1" cy="952.3" r="2.4"/><circle cx="363.1" cy="951.9" r="2.4"/><circle cx="365.8" cy="950.6" r="2.4"/><circle cx="363.4" cy="953.3" r="2.4"/><circle cx="358.5" cy="957.4" r="2.4"/><circle cx="359.8" cy="959" r="2.4"/><circle cx="363.6" cy="958.6" r="2.4"/><circle cx="359.6" cy="961.6" r="2.4"/><circle cx="361.3" cy="962" r="2.4"/><circle cx="366" cy="962.8" r="2.4"/><circle cx="364.8" cy="967.5" r="2.4"/>
</g>
<g clip-path="url(#c3)"><path d="M331.32 970.01 L331.39 969.48 L331.46 968.95 L331.53 968.40 L331.60 967.85 L331.68 967.29 L331.75 966.73 L331.82 966.16 L331.89 965.58 L331.96 964.99 L332.03 964.39 L332.10 963.79 L332.17 963.18 L332.24 962.56 L332.31 961.93 L332.38 961.29 L332.45 960.65 L332.52 959.99 L332.59 959.33 L332.67 958.65 L332.74 957.97 L332.81 957.27 L332.88 956.57 L332.95 955.86 L333.02 955.13 L333.09 954.40 L333.16 953.65 L333.23 952.89 L333.30 952.13 L333.37 951.34 L333.44 950.55 L333.51 949.75 L333.58 948.93 L333.66 948.10 L333.73 947.26 L333.80 946.40 L333.87 945.53 L333.94 944.65 L334.01 943.75 L334.08 942.84 L334.15 941.91 L334.22 940.96 L334.29 940.00 L334.36 939.03 L334.43 938.04 L334.50 937.03 L334.57 936.00 L334.64 934.96 L334.72 933.90 L334.79 932.82 L334.86 931.72 L334.93 930.60 L335.00 929.46 L335.07 928.30 L335.14 927.12 L335.21 925.91 L335.28 924.69 L335.35 923.44 L335.42 922.17 L335.49 920.87 L335.56 919.55 L335.63 918.21 L335.71 916.84 L335.78 915.44 L335.85 914.01 L335.92 912.56 L335.99 911.07 L336.06 909.56 L336.13 908.02 L336.20 906.44 L336.27 904.83 L336.34 903.19 L336.41 901.51 L336.48 899.80 L336.55 898.05 L336.62 896.27 L336.70 894.44 L336.77 892.58 L336.84 890.67 L336.91 888.73 L336.98 886.74 L337.05 884.70 L337.12 882.62 L337.19 880.49 L337.26 878.32 L337.33 876.09 L337.40 873.81 L337.47 871.48 L337.54 869.10 L337.61 866.65 L337.69 864.15 L337.76 861.59 L337.83 858.97 L337.90 856.29 L337.97 853.54 L338.04 850.72 L338.11 847.83 L338.18 844.88 L338.25 841.85 L338.32 838.75 L338.39 835.57 L338.46 832.31 L338.53 828.97 L338.60 825.55 L338.68 822.04 L338.75 818.45 L338.82 814.77 L338.89 811.00 L338.96 807.14 L339.03 803.19 L339.10 799.14 L339.17 795.00 L339.24 790.76 L339.31 786.43 L339.38 782.00 L339.45 777.48 L339.52 772.86 L339.59 768.14 L339.66 763.34 L339.74 758.44 L339.81 753.46 L339.88 748.39 L339.95 743.25 L340.02 738.04 L340.09 732.76 L340.16 727.43 L340.23 722.06 L340.30 716.65 L340.37 711.23 L340.44 705.80 L340.51 700.38 L340.58 694.99 L340.65 689.66 L340.73 684.39 L340.80 679.23 L340.87 674.20 L340.94 669.31 L341.01 664.61 L341.08 660.11 L341.15 655.86 L341.22 651.89 L341.29 648.21 L341.36 644.87 L341.43 641.89 L341.50 639.30 L341.57 637.13 L341.64 635.38 L341.72 634.09 L341.79 633.25 L341.86 632.89 L341.88 632.88 L341.93 633.01 L342.00 633.59 L342.07 634.65 L342.14 636.16 L342.21 638.12 L342.28 640.50 L342.35 643.28 L342.42 646.43 L342.49 649.94 L342.56 653.76 L342.63 657.87 L342.71 662.24 L342.78 666.84 L342.85 671.63 L342.92 676.59 L342.99 681.70 L343.06 686.91 L343.13 692.21 L343.20 697.57 L343.27 702.97 L343.34 708.40 L343.41 713.83 L343.48 719.25 L343.55 724.64 L343.62 730.00 L343.70 735.30 L343.77 740.55 L343.84 745.73 L343.91 750.83 L343.98 755.86 L344.05 760.80 L344.12 765.65 L344.19 770.42 L344.26 775.08 L344.33 779.66 L344.40 784.14 L344.47 788.52 L344.54 792.81 L344.61 797.00 L344.68 801.09 L344.76 805.10 L344.83 809.00 L344.90 812.82 L344.97 816.55 L345.04 820.18 L345.11 823.73 L345.18 827.20 L345.25 830.58 L345.32 833.88 L345.39 837.10 L345.46 840.24 L345.53 843.31 L345.60 846.30 L345.67 849.23 L345.75 852.08 L345.82 854.86 L345.89 857.58 L345.96 860.24 L346.03 862.83 L346.10 865.36 L346.17 867.83 L346.24 870.25 L346.31 872.61 L346.38 874.91 L346.45 877.17 L346.52 879.37 L346.59 881.52 L346.66 883.63 L346.74 885.69 L346.81 887.70 L346.88 889.67 L346.95 891.59 L347.02 893.48 L347.09 895.32 L347.16 897.13 L347.23 898.90 L347.30 900.63 L347.37 902.32 L347.44 903.98 L347.51 905.61 L347.58 907.20 L347.65 908.76 L347.73 910.29 L347.80 911.79 L347.87 913.26 L347.94 914.70 L348.01 916.11 L348.08 917.50 L348.15 918.86 L348.22 920.19 L348.29 921.50 L348.36 922.78 L348.43 924.04 L348.50 925.28 L348.57 926.49 L348.64 927.69 L348.71 928.86 L348.79 930.01 L348.86 931.14 L348.93 932.25 L349.00 933.34 L349.07 934.41 L349.14 935.46 L349.21 936.50 L349.28 937.51 L349.35 938.52 L349.42 939.50 L349.49 940.47 L349.56 941.42 L349.63 942.35 L349.70 943.28 L349.78 944.18 L349.85 945.07 L349.92 945.95 L349.99 946.81 L350.06 947.66 L350.13 948.50 L350.20 949.32 L350.27 950.13 L350.34 950.93 L350.41 951.72 L350.48 952.50 L350.55 953.26 L350.62 954.01 L350.69 954.75 L350.77 955.48 L350.84 956.20 L350.91 956.91 L350.98 957.61 L351.05 958.30 L351.12 958.98 L351.19 959.65 L351.26 960.31 L351.33 960.96 L351.40 961.60 L351.47 962.23 L351.54 962.86 L351.61 963.47 L351.68 964.08 L351.76 964.68 L351.83 965.27 L351.90 965.86 L351.97 966.43 L352.04 967.00 L352.11 967.56 L352.18 968.12 L352.25 968.66 L352.32 969.20 L352.39 969.74 L352.46 970.26" fill="none" stroke="#000" stroke-width="3.1" stroke-dasharray="5 2.8" stroke-dashoffset="2.97" stroke-linejoin="miter"/></g>
<g font-family="Liberation Sans, sans-serif" font-size="16.5" fill="#111" stroke="#111" stroke-width="0.3" style="will-change:transform"><text x="133.20" y="993.20" text-anchor="middle">7050</text><text x="192.58" y="993.20" text-anchor="middle">7100</text><text x="251.97" y="993.20" text-anchor="middle">7150</text><text x="311.35" y="993.20" text-anchor="middle">7200</text><text x="370.73" y="993.20" text-anchor="middle">7250</text><text x="430.12" y="993.20" text-anchor="middle">7300</text><text x="489.50" y="993.20" text-anchor="middle">7350</text><text x="120.90" y="972.70" text-anchor="end">0</text><text x="120.90" y="902.38" text-anchor="end">1000</text><text x="120.90" y="832.06" text-anchor="end">2000</text><text x="120.90" y="761.74" text-anchor="end">3000</text><text x="120.90" y="691.42" text-anchor="end">4000</text><text x="120.90" y="621.10" text-anchor="end">5000</text><text x="120.90" y="550.78" text-anchor="end">6000</text></g>
<clipPath id="c4"><rect x="626.6" y="532" width="372.8" height="438.5"/></clipPath>
<rect x="626.6" y="532" width="372.8" height="438.5" fill="none" stroke="#707070" stroke-width="1.4"/>
<path d="M626.60 970.50V959.50M626.60 532.00V543.00M688.73 970.50V959.50M688.73 532.00V543.00M750.87 970.50V959.50M750.87 532.00V543.00M813.00 970.50V959.50M813.00 532.00V543.00M875.13 970.50V959.50M875.13 532.00V543.00M937.27 970.50V959.50M937.27 532.00V543.00M999.40 970.50V959.50M999.40 532.00V543.00M626.60 970.90H637.60M999.40 970.90H988.40M626.60 922.14H637.60M999.40 922.14H988.40M626.60 873.39H637.60M999.40 873.39H988.40M626.60 824.63H637.60M999.40 824.63H988.40M626.60 775.88H637.60M999.40 775.88H988.40M626.60 727.12H637.60M999.40 727.12H988.40M626.60 678.37H637.60M999.40 678.37H988.40M626.60 629.62H637.60M999.40 629.62H988.40M626.60 580.86H637.60M999.40 580.86H988.40M626.60 532.11H637.60M999.40 532.11H988.40" stroke="#707070" stroke-width="1.2" fill="none"/>
<g fill="#ee5a5a">
<circle cx="844.1" cy="825.1" r="2.4"/><circle cx="844" cy="839.1" r="2.4"/><circle cx="843.9" cy="840.2" r="2.4"/><circle cx="843.9" cy="844.3" r="2.4"/><circle cx="844.1" cy="846.2" r="2.4"/><circle cx="844.1" cy="847.5" r="2.4"/><circle cx="843.9" cy="847.8" r="2.4"/><circle cx="844" cy="849.6" r="2.4"/><circle cx="843.9" cy="850.9" r="2.4"/><circle cx="844.1" cy="850.8" r="2.4"/><circle cx="844.1" cy="851.4" r="2.4"/><circle cx="844" cy="852.3" r="2.4"/><circle cx="844.1" cy="853.2" r="2.4"/><circle cx="844.1" cy="854.6" r="2.4"/><circle cx="844" cy="860.4" r="2.4"/><circle cx="843.9" cy="860.9" r="2.4"/><circle cx="851.6" cy="818" r="2.4"/><circle cx="852.6" cy="817.6" r="2.4"/><circle cx="852.8" cy="821.1" r="2.4"/><circle cx="851.6" cy="823.5" r="2.4"/><circle cx="856.3" cy="829" r="2.4"/><circle cx="852.8" cy="834.4" r="2.4"/><circle cx="855.2" cy="835.3" r="2.4"/><circle cx="853.9" cy="838.7" r="2.4"/><circle cx="852.9" cy="839" r="2.4"/><circle cx="852.9" cy="839.4" r="2.4"/><circle cx="853" cy="841.7" r="2.4"/><circle cx="852.9" cy="842.6" r="2.4"/><circle cx="852.9" cy="845.6" r="2.4"/><circle cx="852.8" cy="846" r="2.4"/><circle cx="856.3" cy="847" r="2.4"/><circle cx="851.3" cy="850.3" r="2.4"/><circle cx="851.5" cy="850.5" r="2.4"/><circle cx="852.9" cy="850.3" r="2.4"/><circle cx="851.5" cy="851.5" r="2.4"/><circle cx="852.8" cy="851.9" r="2.4"/><circle cx="851.6" cy="852.5" r="2.4"/><circle cx="851.5" cy="853.5" r="2.4"/><circle cx="853.8" cy="853.6" r="2.4"/><circle cx="852.8" cy="854.2" r="2.4"/><circle cx="855.2" cy="855.8" r="2.4"/><circle cx="852.7" cy="857" r="2.4"/><circle cx="851.5" cy="857.6" r="2.4"/><circle cx="852.7" cy="859.7" r="2.4"/><circle cx="852.9" cy="860.3" r="2.4"/><circle cx="856.5" cy="859.6" r="2.4"/><circle cx="856.4" cy="860.6" r="2.4"/><circle cx="852.6" cy="860.9" r="2.4"/><circle cx="852.6" cy="861.7" r="2.4"/><circle cx="852.9" cy="862" r="2.4"/><circle cx="852.9" cy="862.5" r="2.4"/><circle cx="852.9" cy="863.5" r="2.4"/><circle cx="857.6" cy="862.8" r="2.4"/><circle cx="856.6" cy="863.5" r="2.4"/><circle cx="855.3" cy="864" r="2.4"/><circle cx="852.6" cy="864.3" r="2.4"/><circle cx="857.6" cy="864.7" r="2.4"/><circle cx="855.4" cy="865.2" r="2.4"/><circle cx="856.5" cy="865.2" r="2.4"/><circle cx="856.6" cy="865.3" r="2.4"/><circle cx="856.5" cy="865.6" r="2.4"/><circle cx="857.6" cy="865.4" r="2.4"/><circle cx="851.6" cy="865.8" r="2.4"/><circle cx="857.9" cy="866.2" r="2.4"/><circle cx="855.4" cy="867.3" r="2.4"/><circle cx="856.6" cy="867.1" r="2.4"/><circle cx="857.6" cy="867.4" r="2.4"/><circle cx="852.9" cy="867.6" r="2.4"/><circle cx="852.7" cy="868" r="2.4"/><circle cx="852.9" cy="867.8" r="2.4"/><circle cx="852.7" cy="869.2" r="2.4"/><circle cx="852.8" cy="869.6" r="2.4"/><circle cx="852.6" cy="870.9" r="2.4"/><circle cx="852.6" cy="872.1" r="2.4"/><circle cx="852.7" cy="872.3" r="2.4"/><circle cx="851.5" cy="873.5" r="2.4"/><circle cx="855.3" cy="867.9" r="2.4"/><circle cx="855.3" cy="868.2" r="2.4"/><circle cx="855.3" cy="869.4" r="2.4"/><circle cx="855.4" cy="869.9" r="2.4"/><circle cx="855.3" cy="870.4" r="2.4"/><circle cx="855.3" cy="871" r="2.4"/><circle cx="855.4" cy="871.5" r="2.4"/><circle cx="855.3" cy="872.1" r="2.4"/><circle cx="855.3" cy="872.4" r="2.4"/><circle cx="855.2" cy="873.8" r="2.4"/><circle cx="855.3" cy="873.6" r="2.4"/><circle cx="856.5" cy="868.5" r="2.4"/><circle cx="856.5" cy="869.2" r="2.4"/><circle cx="856.5" cy="869.5" r="2.4"/><circle cx="856.5" cy="870.4" r="2.4"/><circle cx="856.6" cy="870.8" r="2.4"/><circle cx="856.6" cy="871.8" r="2.4"/><circle cx="856.5" cy="872.4" r="2.4"/><circle cx="856.5" cy="873.3" r="2.4"/><circle cx="856.6" cy="873.7" r="2.4"/><circle cx="857.8" cy="868.8" r="2.4"/><circle cx="857.8" cy="869.5" r="2.4"/><circle cx="857.8" cy="869.7" r="2.4"/><circle cx="857.8" cy="870.3" r="2.4"/><circle cx="857.6" cy="870.8" r="2.4"/><circle cx="857.7" cy="872.2" r="2.4"/><circle cx="857.8" cy="872.6" r="2.4"/><circle cx="857.8" cy="872.9" r="2.4"/><circle cx="857.7" cy="873.2" r="2.4"/><circle cx="857.6" cy="873.8" r="2.4"/><circle cx="857.9" cy="873.6" r="2.4"/><circle cx="843.9" cy="783.4" r="2.4"/><circle cx="843.9" cy="903.8" r="2.4"/><circle cx="851.5" cy="531.1" r="2.4"/><circle cx="851.6" cy="596.4" r="2.4"/><circle cx="851.4" cy="667.5" r="2.4"/><circle cx="851.4" cy="675.7" r="2.4"/><circle cx="851.5" cy="709.5" r="2.4"/><circle cx="851.4" cy="727.5" r="2.4"/><circle cx="851.4" cy="789.2" r="2.4"/><circle cx="851.4" cy="793.7" r="2.4"/><circle cx="851.6" cy="810.3" r="2.4"/><circle cx="851.6" cy="812.7" r="2.4"/><circle cx="852.9" cy="765.5" r="2.4"/><circle cx="852.8" cy="767.5" r="2.4"/><circle cx="852.8" cy="803.4" r="2.4"/><circle cx="851.5" cy="880" r="2.4"/><circle cx="851.5" cy="883.7" r="2.4"/><circle cx="851.6" cy="885.9" r="2.4"/><circle cx="851.6" cy="894.7" r="2.4"/><circle cx="851.4" cy="900" r="2.4"/><circle cx="851.5" cy="898.8" r="2.4"/><circle cx="851.4" cy="908.9" r="2.4"/><circle cx="852.6" cy="879.7" r="2.4"/><circle cx="852.7" cy="877.5" r="2.4"/><circle cx="852.7" cy="904.2" r="2.4"/><circle cx="853.9" cy="882.2" r="2.4"/><circle cx="853.8" cy="892.6" r="2.4"/><circle cx="855.3" cy="878.7" r="2.4"/><circle cx="855.3" cy="884.6" r="2.4"/><circle cx="855.3" cy="891.3" r="2.4"/><circle cx="855.2" cy="905" r="2.4"/><circle cx="856.5" cy="887.6" r="2.4"/><circle cx="856.4" cy="884.8" r="2.4"/><circle cx="856.6" cy="883.1" r="2.4"/><circle cx="856.7" cy="882" r="2.4"/><circle cx="856.3" cy="895.5" r="2.4"/><circle cx="856.4" cy="900" r="2.4"/><circle cx="857.9" cy="882" r="2.4"/><circle cx="857.9" cy="887.6" r="2.4"/><circle cx="856.5" cy="875.9" r="2.4"/><circle cx="856.6" cy="878.5" r="2.4"/><circle cx="856.4" cy="880.3" r="2.4"/><circle cx="856.6" cy="885.6" r="2.4"/><circle cx="856.4" cy="890" r="2.4"/><circle cx="857.8" cy="875.9" r="2.4"/><circle cx="857.9" cy="878.5" r="2.4"/><circle cx="857.9" cy="881.2" r="2.4"/><circle cx="867.4" cy="822.2" r="2.4"/><circle cx="873.3" cy="826" r="2.4"/><circle cx="858.8" cy="841.7" r="2.4"/><circle cx="868.6" cy="841.6" r="2.4"/><circle cx="878.6" cy="841.8" r="2.4"/><circle cx="868.3" cy="843.3" r="2.4"/><circle cx="866.9" cy="847.2" r="2.4"/><circle cx="861.4" cy="849.9" r="2.4"/><circle cx="872.4" cy="851.5" r="2.4"/><circle cx="878.6" cy="851.3" r="2.4"/><circle cx="879.7" cy="851.6" r="2.4"/><circle cx="878.6" cy="852.5" r="2.4"/><circle cx="865.9" cy="856.3" r="2.4"/><circle cx="869.6" cy="856.5" r="2.4"/><circle cx="858.4" cy="856.8" r="2.4"/><circle cx="861.1" cy="857.2" r="2.4"/><circle cx="878.3" cy="857.5" r="2.4"/><circle cx="880.9" cy="859.7" r="2.4"/><circle cx="883.6" cy="860.4" r="2.4"/><circle cx="868.5" cy="861.1" r="2.4"/><circle cx="878.8" cy="861" r="2.4"/><circle cx="880.6" cy="860.8" r="2.4"/><circle cx="877.4" cy="861.3" r="2.4"/><circle cx="873.2" cy="861.6" r="2.4"/><circle cx="876" cy="861.6" r="2.4"/><circle cx="868.6" cy="862.4" r="2.4"/><circle cx="880.9" cy="862.4" r="2.4"/><circle cx="857.1" cy="862.6" r="2.4"/><circle cx="873.2" cy="862.7" r="2.4"/><circle cx="805.1" cy="843.3" r="2.4"/><circle cx="807.7" cy="867.4" r="2.4"/><circle cx="805.1" cy="872.5" r="2.4"/><circle cx="857.4" cy="862.7" r="2.4"/><circle cx="857.8" cy="863.6" r="2.4"/><circle cx="859.3" cy="863.6" r="2.4"/><circle cx="857.4" cy="864.7" r="2.4"/><circle cx="857.4" cy="865.4" r="2.4"/><circle cx="857.8" cy="866.2" r="2.4"/><circle cx="858.9" cy="866.9" r="2.4"/><circle cx="860.8" cy="867.4" r="2.4"/><circle cx="858.4" cy="867.8" r="2.4"/><circle cx="857.8" cy="868.6" r="2.4"/><circle cx="857.8" cy="869.4" r="2.4"/><circle cx="857.8" cy="870.3" r="2.4"/><circle cx="857.8" cy="871.4" r="2.4"/><circle cx="857.8" cy="872.2" r="2.4"/><circle cx="856.9" cy="873.7" r="2.4"/><circle cx="868.5" cy="862.5" r="2.4"/><circle cx="868.5" cy="862.8" r="2.4"/><circle cx="873.4" cy="862.8" r="2.4"/><circle cx="880.6" cy="862.4" r="2.4"/><circle cx="879.2" cy="863.1" r="2.4"/><circle cx="882.1" cy="863.5" r="2.4"/><circle cx="874.9" cy="863.5" r="2.4"/><circle cx="877.3" cy="864.2" r="2.4"/><circle cx="880.6" cy="864.2" r="2.4"/><circle cx="878.8" cy="864.9" r="2.4"/><circle cx="869.6" cy="865.3" r="2.4"/><circle cx="880.6" cy="865.9" r="2.4"/><circle cx="868.5" cy="866.1" r="2.4"/><circle cx="872.9" cy="866.4" r="2.4"/><circle cx="876.4" cy="866.6" r="2.4"/><circle cx="880.6" cy="866.9" r="2.4"/><circle cx="875.3" cy="867.4" r="2.4"/><circle cx="867.6" cy="867.9" r="2.4"/><circle cx="868.5" cy="868.6" r="2.4"/><circle cx="867" cy="869" r="2.4"/><circle cx="883.1" cy="867.7" r="2.4"/><circle cx="885" cy="869" r="2.4"/><circle cx="867.6" cy="869.9" r="2.4"/><circle cx="875.3" cy="867.8" r="2.4"/><circle cx="878.3" cy="867.9" r="2.4"/><circle cx="882.6" cy="867.7" r="2.4"/><circle cx="884.2" cy="867.8" r="2.4"/><circle cx="876.7" cy="868.2" r="2.4"/><circle cx="875.3" cy="868.5" r="2.4"/><circle cx="880.8" cy="868.5" r="2.4"/><circle cx="885.5" cy="868.5" r="2.4"/><circle cx="876.9" cy="869.1" r="2.4"/><circle cx="880" cy="869" r="2.4"/><circle cx="884.1" cy="869.1" r="2.4"/><circle cx="875" cy="869.4" r="2.4"/><circle cx="878.8" cy="869.3" r="2.4"/><circle cx="882.4" cy="869.4" r="2.4"/><circle cx="885.3" cy="869.5" r="2.4"/><circle cx="879.9" cy="869.8" r="2.4"/><circle cx="874.1" cy="870.3" r="2.4"/><circle cx="878.8" cy="870.2" r="2.4"/><circle cx="882.3" cy="870.4" r="2.4"/><circle cx="885.2" cy="870.3" r="2.4"/><circle cx="873.1" cy="870.3" r="2.4"/><circle cx="876.8" cy="870.2" r="2.4"/><circle cx="878.8" cy="870.2" r="2.4"/><circle cx="885.6" cy="870.3" r="2.4"/><circle cx="875.7" cy="870.8" r="2.4"/><circle cx="878.3" cy="870.6" r="2.4"/><circle cx="880.8" cy="870.7" r="2.4"/><circle cx="885.6" cy="870.6" r="2.4"/><circle cx="872.9" cy="870.9" r="2.4"/><circle cx="875.7" cy="871.1" r="2.4"/><circle cx="880.4" cy="871" r="2.4"/><circle cx="883.1" cy="870.9" r="2.4"/><circle cx="887.1" cy="871.2" r="2.4"/><circle cx="873.9" cy="871.5" r="2.4"/><circle cx="880.7" cy="871.4" r="2.4"/><circle cx="873" cy="871.6" r="2.4"/><circle cx="877.1" cy="871.9" r="2.4"/><circle cx="882.3" cy="871.8" r="2.4"/><circle cx="886.1" cy="871.6" r="2.4"/><circle cx="877.6" cy="872.1" r="2.4"/><circle cx="881.6" cy="872" r="2.4"/><circle cx="884.5" cy="872.1" r="2.4"/><circle cx="872.3" cy="872.6" r="2.4"/><circle cx="876.2" cy="872.7" r="2.4"/><circle cx="880.8" cy="872.6" r="2.4"/><circle cx="882.5" cy="872.5" r="2.4"/><circle cx="886.8" cy="872.4" r="2.4"/><circle cx="874.4" cy="872.8" r="2.4"/><circle cx="878.8" cy="872.8" r="2.4"/><circle cx="880.3" cy="872.9" r="2.4"/><circle cx="885.1" cy="872.9" r="2.4"/><circle cx="872.6" cy="873.3" r="2.4"/><circle cx="880" cy="873.3" r="2.4"/><circle cx="883.5" cy="873.1" r="2.4"/><circle cx="885.7" cy="873.3" r="2.4"/><circle cx="878.9" cy="873.7" r="2.4"/><circle cx="880.7" cy="873.7" r="2.4"/><circle cx="884.1" cy="873.6" r="2.4"/><circle cx="867.2" cy="870.6" r="2.4"/><circle cx="870.6" cy="870.7" r="2.4"/><circle cx="867.2" cy="870.9" r="2.4"/><circle cx="870.2" cy="870.9" r="2.4"/><circle cx="865.1" cy="871.4" r="2.4"/><circle cx="869.3" cy="871.4" r="2.4"/><circle cx="872" cy="871.2" r="2.4"/><circle cx="869.6" cy="871.6" r="2.4"/><circle cx="864.4" cy="872.1" r="2.4"/><circle cx="865.8" cy="872.4" r="2.4"/><circle cx="869.8" cy="872.3" r="2.4"/><circle cx="865.6" cy="872.7" r="2.4"/><circle cx="867.3" cy="872.8" r="2.4"/><circle cx="872.3" cy="872.9" r="2.4"/><circle cx="871" cy="873.5" r="2.4"/><circle cx="805.4" cy="543" r="2.4"/><circle cx="861.1" cy="691" r="2.4"/><circle cx="873.5" cy="695.6" r="2.4"/><circle cx="861.1" cy="700.2" r="2.4"/><circle cx="873.5" cy="723.2" r="2.4"/><circle cx="868.4" cy="731.5" r="2.4"/><circle cx="868.4" cy="770.5" r="2.4"/><circle cx="869.9" cy="775.8" r="2.4"/><circle cx="858.9" cy="779.7" r="2.4"/><circle cx="861" cy="790.1" r="2.4"/><circle cx="858.9" cy="800.9" r="2.4"/><circle cx="791.9" cy="874.7" r="2.4"/><circle cx="805.6" cy="875" r="2.4"/><circle cx="808" cy="879.7" r="2.4"/><circle cx="805.6" cy="888" r="2.4"/><circle cx="808.3" cy="888.4" r="2.4"/><circle cx="805.6" cy="893.1" r="2.4"/><circle cx="805.6" cy="897.3" r="2.4"/><circle cx="805.6" cy="900" r="2.4"/><circle cx="805.6" cy="910.3" r="2.4"/><circle cx="805.6" cy="913.7" r="2.4"/><circle cx="805.6" cy="928.9" r="2.4"/><circle cx="806.7" cy="946.6" r="2.4"/><circle cx="805.6" cy="970.8" r="2.4"/><circle cx="826.6" cy="886.9" r="2.4"/><circle cx="826.6" cy="890" r="2.4"/><circle cx="851" cy="892.7" r="2.4"/><circle cx="855.8" cy="897.1" r="2.4"/><circle cx="861.1" cy="894.5" r="2.4"/><circle cx="851" cy="899.7" r="2.4"/><circle cx="854.1" cy="904.6" r="2.4"/><circle cx="843.5" cy="903.7" r="2.4"/><circle cx="851" cy="909.4" r="2.4"/><circle cx="861.1" cy="905.9" r="2.4"/><circle cx="861.1" cy="917.3" r="2.4"/><circle cx="861.1" cy="920" r="2.4"/><circle cx="879.5" cy="896.2" r="2.4"/><circle cx="881.3" cy="892.7" r="2.4"/><circle cx="869" cy="916.9" r="2.4"/><circle cx="872.5" cy="914.7" r="2.4"/><circle cx="866.9" cy="930.2" r="2.4"/><circle cx="858.3" cy="941.1" r="2.4"/><circle cx="869.7" cy="943.9" r="2.4"/><circle cx="868.4" cy="913.7" r="2.4"/><circle cx="872.3" cy="914.5" r="2.4"/><circle cx="868.4" cy="917.7" r="2.4"/><circle cx="873.1" cy="905.2" r="2.4"/><circle cx="879.4" cy="896.6" r="2.4"/><circle cx="880.9" cy="892.7" r="2.4"/><circle cx="858.9" cy="842.2" r="2.4"/><circle cx="868.6" cy="842.2" r="2.4"/><circle cx="878.5" cy="842.2" r="2.4"/><circle cx="855.8" cy="847" r="2.4"/><circle cx="867.2" cy="847.5" r="2.4"/><circle cx="861.1" cy="850.1" r="2.4"/><circle cx="872.5" cy="851.4" r="2.4"/><circle cx="879.1" cy="851.9" r="2.4"/><circle cx="858.9" cy="857.1" r="2.4"/><circle cx="866.4" cy="856.7" r="2.4"/><circle cx="869.4" cy="857.1" r="2.4"/><circle cx="861.1" cy="867.7" r="2.4"/><circle cx="866.8" cy="860.5" r="2.4"/><circle cx="870.6" cy="860.2" r="2.4"/><circle cx="873.1" cy="861" r="2.4"/><circle cx="876.3" cy="860.9" r="2.4"/><circle cx="879.5" cy="860.3" r="2.4"/><circle cx="881.4" cy="859" r="2.4"/><circle cx="884.7" cy="860.1" r="2.4"/><circle cx="867.9" cy="863.3" r="2.4"/><circle cx="870.6" cy="862" r="2.4"/><circle cx="877" cy="863.2" r="2.4"/><circle cx="880" cy="861.8" r="2.4"/><circle cx="883.8" cy="862.8" r="2.4"/><circle cx="885.7" cy="861.6" r="2.4"/><circle cx="866.7" cy="865.2" r="2.4"/><circle cx="870.5" cy="866" r="2.4"/><circle cx="872" cy="864.2" r="2.4"/><circle cx="875.4" cy="865.9" r="2.4"/><circle cx="879.4" cy="866" r="2.4"/><circle cx="884.9" cy="865.1" r="2.4"/><circle cx="869.4" cy="868.4" r="2.4"/><circle cx="870.6" cy="868.6" r="2.4"/><circle cx="875.2" cy="868.4" r="2.4"/><circle cx="878.5" cy="868.1" r="2.4"/><circle cx="879.7" cy="868.6" r="2.4"/><circle cx="882.6" cy="867.2" r="2.4"/><circle cx="867.4" cy="870.4" r="2.4"/><circle cx="869" cy="870.6" r="2.4"/><circle cx="874" cy="870.2" r="2.4"/><circle cx="877" cy="870.4" r="2.4"/><circle cx="879.4" cy="870.2" r="2.4"/><circle cx="881.2" cy="869.6" r="2.4"/><circle cx="868.2" cy="872.4" r="2.4"/><circle cx="871.2" cy="872.9" r="2.4"/><circle cx="874.1" cy="873.2" r="2.4"/><circle cx="878.4" cy="873.8" r="2.4"/><circle cx="881.1" cy="872.8" r="2.4"/><circle cx="884.1" cy="873.9" r="2.4"/><circle cx="887" cy="872.3" r="2.4"/><circle cx="867.1" cy="876.1" r="2.4"/><circle cx="870.4" cy="875.8" r="2.4"/><circle cx="874" cy="875.5" r="2.4"/><circle cx="875.4" cy="875.9" r="2.4"/><circle cx="879.3" cy="874.6" r="2.4"/><circle cx="881.1" cy="875.2" r="2.4"/><circle cx="886" cy="875.2" r="2.4"/><circle cx="867.5" cy="878.5" r="2.4"/><circle cx="872.1" cy="877.9" r="2.4"/><circle cx="875" cy="877.6" r="2.4"/><circle cx="876.9" cy="879" r="2.4"/><circle cx="880.5" cy="878.1" r="2.4"/><circle cx="883.8" cy="878.2" r="2.4"/><circle cx="886.6" cy="878.7" r="2.4"/><circle cx="866.2" cy="880.9" r="2.4"/><circle cx="872.5" cy="881.7" r="2.4"/><circle cx="876.4" cy="879.7" r="2.4"/><circle cx="879.3" cy="880.1" r="2.4"/><circle cx="883" cy="880.7" r="2.4"/><circle cx="884.1" cy="880.7" r="2.4"/><circle cx="866.9" cy="882.3" r="2.4"/><circle cx="875.3" cy="882.9" r="2.4"/><circle cx="882.7" cy="881.4" r="2.4"/><circle cx="874.8" cy="884.6" r="2.4"/><circle cx="877.3" cy="884.3" r="2.4"/><circle cx="880.3" cy="885.2" r="2.4"/><circle cx="866.3" cy="886.5" r="2.4"/><circle cx="872.1" cy="886.8" r="2.4"/><circle cx="875.9" cy="886.2" r="2.4"/><circle cx="878.9" cy="887.5" r="2.4"/><circle cx="881.7" cy="888" r="2.4"/><circle cx="869" cy="889.9" r="2.4"/><circle cx="870.8" cy="890.4" r="2.4"/><circle cx="874.5" cy="889.6" r="2.4"/><circle cx="876.7" cy="890.7" r="2.4"/><circle cx="881.5" cy="888.9" r="2.4"/><circle cx="867.7" cy="893.2" r="2.4"/><circle cx="869.9" cy="893.2" r="2.4"/><circle cx="874" cy="892.2" r="2.4"/><circle cx="876" cy="892.8" r="2.4"/><circle cx="879.2" cy="892.9" r="2.4"/><circle cx="882.4" cy="893.2" r="2.4"/><circle cx="871" cy="893.8" r="2.4"/><circle cx="868.1" cy="897.6" r="2.4"/><circle cx="872.1" cy="897.3" r="2.4"/><circle cx="875" cy="896.5" r="2.4"/><circle cx="873.7" cy="899.5" r="2.4"/><circle cx="871.9" cy="903.3" r="2.4"/><circle cx="875.1" cy="902.8" r="2.4"/><circle cx="866.4" cy="904.6" r="2.4"/><circle cx="869.9" cy="904.9" r="2.4"/><circle cx="874" cy="906.4" r="2.4"/><circle cx="874.4" cy="908.9" r="2.4"/><circle cx="869.3" cy="911.3" r="2.4"/><circle cx="874.3" cy="912" r="2.4"/><circle cx="851.6" cy="865.6" r="2.4"/><circle cx="854.5" cy="866.6" r="2.4"/><circle cx="856.6" cy="865.2" r="2.4"/><circle cx="852.1" cy="868" r="2.4"/><circle cx="856.6" cy="868.5" r="2.4"/><circle cx="859.8" cy="867.7" r="2.4"/><circle cx="850.5" cy="870.3" r="2.4"/><circle cx="857.9" cy="870.8" r="2.4"/><circle cx="856.4" cy="874.6" r="2.4"/><circle cx="851.1" cy="875.9" r="2.4"/><circle cx="858.1" cy="875.6" r="2.4"/><circle cx="855.2" cy="878.4" r="2.4"/><circle cx="858.2" cy="879.8" r="2.4"/><circle cx="850.9" cy="882" r="2.4"/><circle cx="854.3" cy="881.8" r="2.4"/><circle cx="856.6" cy="881.9" r="2.4"/><circle cx="852.3" cy="883.2" r="2.4"/><circle cx="855.2" cy="883.4" r="2.4"/><circle cx="858.9" cy="883.2" r="2.4"/><circle cx="854.1" cy="887.5" r="2.4"/>
</g>
<g clip-path="url(#c4)"><path d="M835.99 873.88 L836.61 873.23 L837.85 871.69 L839.10 869.72 L840.34 867.10 L841.58 863.50 L842.82 858.34 L844.07 850.64 L845.31 839.51 L846.55 828.46 L847.79 830.35 L849.04 842.33 L850.28 852.69 L851.52 859.70 L852.77 864.44 L854.01 867.77 L855.25 870.22 L856.49 872.08 L857.74 873.53 L858.11 873.91" fill="none" stroke="#000" stroke-width="3.1" stroke-dasharray="5 2.8" stroke-dashoffset="2.00" stroke-linejoin="round"/></g>
<g font-family="Liberation Sans, sans-serif" font-size="16.5" fill="#111" stroke="#111" stroke-width="0.3" style="will-change:transform"><text x="628.60" y="993.20" text-anchor="middle">7050</text><text x="690.73" y="993.20" text-anchor="middle">7100</text><text x="752.87" y="993.20" text-anchor="middle">7150</text><text x="815.00" y="993.20" text-anchor="middle">7200</text><text x="877.13" y="993.20" text-anchor="middle">7250</text><text x="939.27" y="993.20" text-anchor="middle">7300</text><text x="1001.40" y="993.20" text-anchor="middle">7350</text><text x="616.30" y="977.10" text-anchor="end">-10000</text><text x="616.30" y="928.35" text-anchor="end">-5000</text><text x="616.30" y="879.59" text-anchor="end">0</text><text x="616.30" y="830.84" text-anchor="end">5000</text><text x="616.30" y="782.08" text-anchor="end">10000</text><text x="616.30" y="733.33" text-anchor="end">15000</text><text x="616.30" y="684.57" text-anchor="end">20000</text><text x="616.30" y="635.82" text-anchor="end">25000</text><text x="616.30" y="587.06" text-anchor="end">30000</text><text x="616.30" y="538.31" text-anchor="end">35000</text></g>
<g font-family="Liberation Sans, sans-serif" font-size="16.5" fill="#111" stroke="#111" stroke-width="0.3" style="will-change:transform">
<text x="308" y="30.5" text-anchor="middle">BLG02T0402.2171</text>
<text x="812.5" y="30.5" text-anchor="middle" xml:space="preserve">226  0.00  0.00  0</text>
<text transform="translate(38.5 264.7) rotate(-90)" text-anchor="middle">d flux</text>
<text transform="translate(38.5 751.7) rotate(-90)" text-anchor="middle">d flux</text>
<text x="308.8" y="1018.2" text-anchor="middle">time (HJD-2450000)</text>
<text x="812.5" y="1018.2" text-anchor="middle">time (HJD-2450000)</text>
</g>
<path d="M341.35 625.4 L343.3 637 L339.5 637 Z" fill="#000"/>
</svg></body></html>
